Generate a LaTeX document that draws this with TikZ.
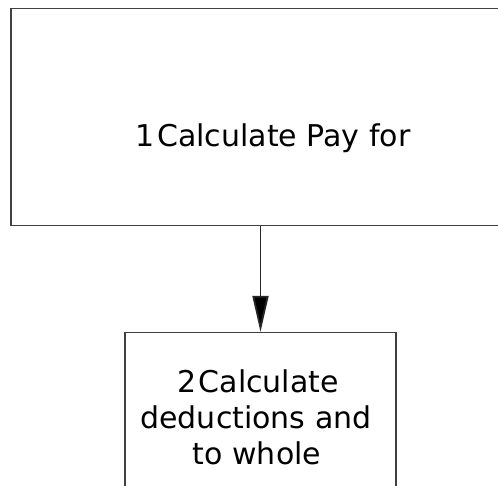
\documentclass[tikz,border=0pt]{standalone}
\usepackage{fontspec}
\setmainfont{DejaVu Sans}
\usetikzlibrary{arrows.meta}
\tikzset{
  procbox/.style={draw=black!75, line width=1.6pt, rectangle, inner sep=0pt},
  boxtext/.style={font=\fontsize{30}{36}\selectfont, inner sep=0pt, align=center, text=black},
  flow/.style={draw=black!85, line width=1.8pt, -{Triangle[length=36pt,width=16pt,fill=black]}}
}
\begin{document}
\begin{tikzpicture}[x=1pt,y=-1pt]
\useasboundingbox (0,0) rectangle (498,486);
\clip (0,0) rectangle (498,486);
\node[procbox, minimum width=524pt, minimum height=217pt] (b1) at (273,117.2) {};
\node[boxtext, anchor=base] (t1) at (273,147) {1\kern.08em Calculate Pay for};
\node[procbox, minimum width=271pt, minimum height=200pt] (b2) at (260.5,432.7) {};
\node[boxtext, anchor=base] (t2a) at (258,392.7) {2\kern.08em Calculate};
\node[boxtext, anchor=base] (t2b) at (256,428.5) {deductions and};
\node[boxtext, anchor=base] (t2c) at (257,464.3) {to whole};
\draw[flow] (b2.north |- b1.south) -- (b2.north);
\end{tikzpicture}
\end{document}
